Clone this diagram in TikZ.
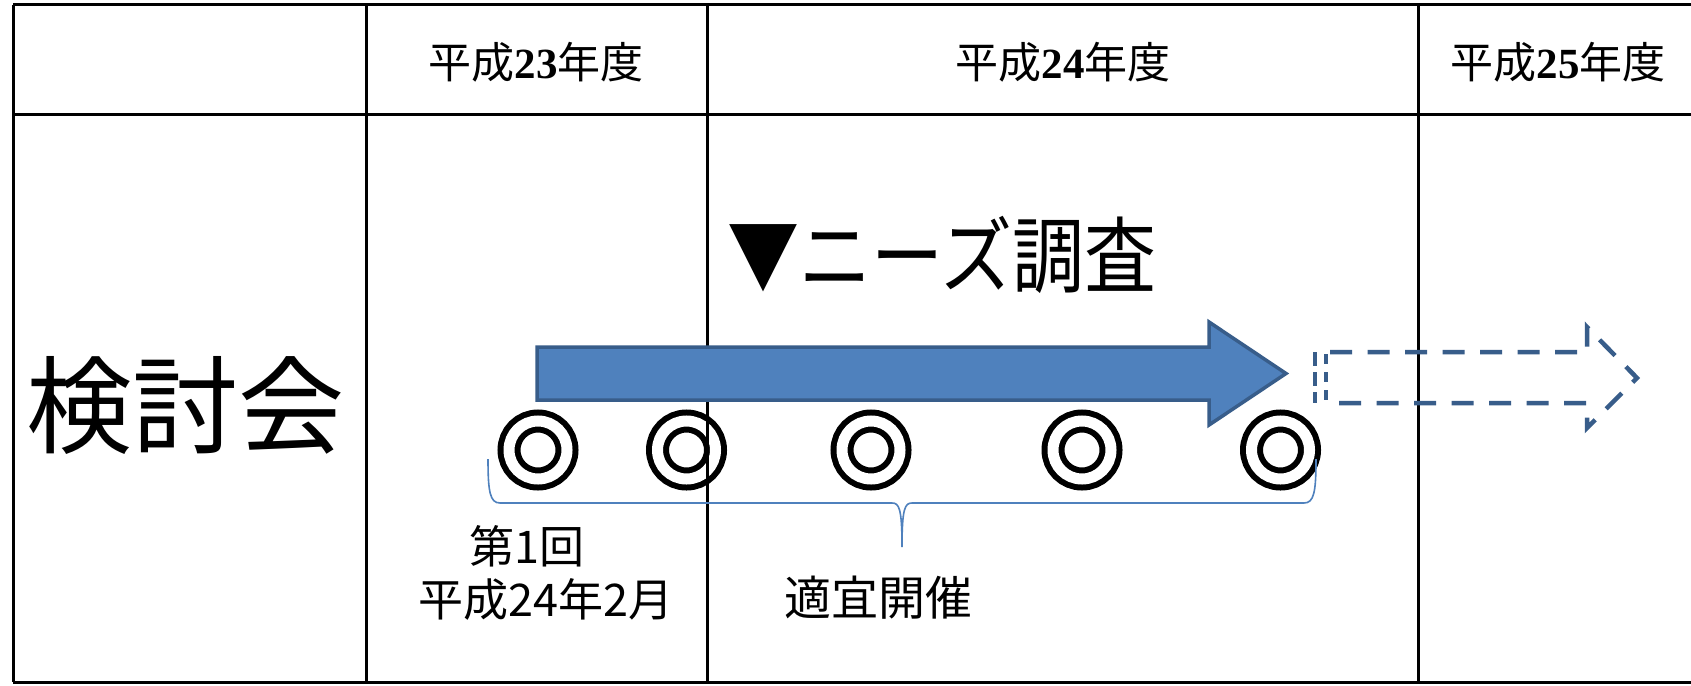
\documentclass[tikz,border=0pt]{standalone}
\usepackage{fontspec}
\newfontfamily\jp{Noto Sans CJK JP}
\newfontfamily\mincho{Noto Sans CJK JP}
\newfontfamily\digitfont{Liberation Serif}
\definecolor{arrowfill}{RGB}{79,129,189}
\definecolor{arrowline}{RGB}{56,93,138}
\definecolor{braceblue}{RGB}{79,129,189}
\begin{document}
\begin{tikzpicture}[x=1pt,y=-1pt,
  tbl/.style={line width=3,draw=black},
  hdr/.style={font=\mincho\fontsize{43}{47}\selectfont,inner sep=0},
  target/.style={circle,draw=black,line width=6,double=white,double distance=11,minimum size=58,inner sep=0},
  bigarrow/.style={fill=arrowfill,draw=arrowline,line width=3.5,line join=miter},
  dasharrow/.style={draw=arrowline,line width=4.5,dash pattern=on 22 off 15.5},
  bracestyle/.style={draw=braceblue,line width=1.6},
  gothic/.style={font=\jp\fontsize{45}{50}\selectfont,inner sep=0}]
\useasboundingbox (0,0) rectangle (1691,685);
\fill[white] (0,0) rectangle (1691,685);
% targets
\node[target] (c1) at (538,450) {};
\node[target] (c2) at (686.5,450) {};
\node[target] (c3) at (871,450) {};
\node[target] (c4) at (1082,450) {};
\node[target] (c5) at (1280.5,450) {};
% table
\draw[tbl] (13,5) -- (1691,5);
\draw[tbl] (13,114) -- (1691,114);
\draw[tbl] (13,682) -- (1691,682);
\draw[tbl] (13,5) -- (13,682);
\draw[tbl] (366,5) -- (366,682);
\draw[tbl,line width=2.4] (707.5,5) -- (707.5,682);
\draw[tbl] (1418,5) -- (1418,682);
% headers
\node[hdr] (h23) at (536,62) {平成{\digitfont\bfseries 23}年度};
\node[hdr] (h24) at (1063,62) {平成{\digitfont\bfseries 24}年度};
\node[hdr] (h25) at (1558,62) {平成{\digitfont\bfseries 25}年度};
% row label
\node[font=\mincho\fontsize{106}{112}\selectfont,inner sep=0] (kentou) at (185,405) {検討会};
% needs survey
\node[font=\jp\fontsize{72}{80}\selectfont,inner sep=0] (needs) at (942,255) {\scalebox{1}[1.15]{▼ニーズ調査}};
% brace
\draw[bracestyle] (488,459) .. controls (488,492) and (490,503) .. (500,503)
  -- (892,503) .. controls (899,503) and (902,508) .. (902,547)
  .. controls (902,508) and (905,503) .. (912,503)
  -- (1304,503) .. controls (1314,503) and (1316,492) .. (1316,459);
% blue arrow
\draw[bigarrow] (537,347) -- (1209,347) -- (1209,322) -- (1286,373.5) -- (1209,425) -- (1209,400) -- (537,400) -- cycle;
% dashed arrow
\draw[dasharrow] (1330,352) -- (1587,352) -- (1587,327) -- (1637,378) -- (1587,428) -- (1587,403) -- (1330,403);
\draw[draw=arrowline,line width=4.5,dash pattern=on 14 off 6] (1315,352) -- (1315,403);
\draw[draw=arrowline,line width=4.5,dash pattern=on 10 off 8] (1326,354) -- (1326,403);
% labels
\node[gothic] (first) at (527,546) {第1回};
\node[gothic] (date) at (546,599) {平成24年2月};
\node[gothic,font=\jp\fontsize{47}{52}\selectfont] (tekigi) at (878,598) {適宜開催};
\end{tikzpicture}
\end{document}
